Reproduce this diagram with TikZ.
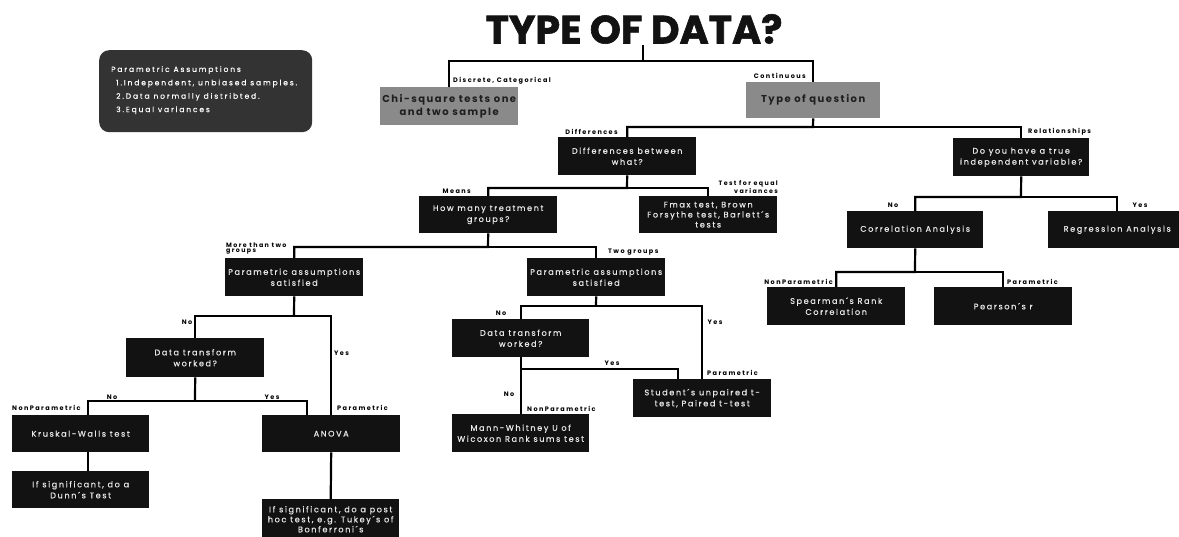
\documentclass[tikz,border=0pt]{standalone}
\usepackage{fontspec}
\setmainfont{Poppins}
\newfontfamily\boxfont[LetterSpace=20, FakeBold=0.6]{Poppins}
\newfontfamily\notefont[LetterSpace=25, FakeBold=0.4]{Poppins}
\newfontfamily\greyfont[LetterSpace=15]{Poppins}
\newfontfamily\lblfont[LetterSpace=22]{Poppins}
\newfontfamily\headfont[FakeBold=1.5]{Poppins}
\definecolor{boxblack}{HTML}{121212}
\definecolor{boxtext}{HTML}{E8E8E8}
\definecolor{greybox}{HTML}{8A8A8A}
\definecolor{greytext}{HTML}{1E1E1E}
\definecolor{notefill}{HTML}{333333}
\tikzset{
  box/.style={fill=boxblack, text=boxtext, anchor=north west, align=center,
    inner sep=0pt, minimum width=138pt, minimum height=38pt,
    font=\boxfont\fontsize{8.1}{11}\selectfont},
  greyblock/.style={fill=greybox, text=greytext, anchor=north west, align=center,
    inner sep=0pt, minimum height=38pt,
    font=\greyfont\bfseries\fontsize{10}{13}\selectfont},
  lbl/.style={inner sep=0pt, text=black, font=\lblfont\bfseries\fontsize{6.5}{6.5}\selectfont},
  wire/.style={draw=black, line width=2.2pt}
}
\begin{document}
\begin{tikzpicture}[x=1pt, y=-1pt]
\useasboundingbox (0,0) rectangle (1179,536);
\fill[white] (0,0) rectangle (1179,536);

% heading
\node[inner sep=0pt, font=\headfont\bfseries\fontsize{39.5}{41}\selectfont, text=black!93] (title) at (634,29) {TYPE OF DATA?};

% assumptions note
\node[fill=notefill, rounded corners=10pt, anchor=north west, minimum width=213pt,
  minimum height=82pt, inner sep=0pt] (note) at (99,50) {};
\node[anchor=north west, inner sep=0pt, text=white, align=left,
  font=\notefont\fontsize{7.5}{13.4}\selectfont] (notetext) at (111,66)
  {Parametric Assumptions\\
   \hspace*{5pt}1.Independent, unbiased samples.\\
   \hspace*{5pt}2.Data normally distribted.\\
   \hspace*{5pt}3.Equal variances};

% blocks
\node[greyblock, minimum width=138pt] (chi) at (380,87) {Chi-square tests one\\and two sample};
\node[greyblock, minimum width=134pt, minimum height=36pt] (typeq) at (746,82) {Type of question};
\node[box] (diff) at (558,137) {Differences between\\what?};
\node[box, minimum height=37pt] (how) at (419,196) {How many treatment\\groups?};
\node[box, minimum height=37pt, font=\boxfont\fontsize{8.1}{10}\selectfont] (fmax) at (639,196) {Fmax test, Brown\\Forsythe test, Barlett´s\\tests};
\node[box, minimum width=136pt] (dyh) at (953,138) {Do you have a true\\independent variable?};
\node[box, minimum width=136pt, minimum height=37pt] (corr) at (847,211) {Correlation Analysis};
\node[box, minimum height=37pt] (regr) at (1048,211) {Regression Analysis};
\node[box] (spear) at (767,287) {Spearman´s Rank\\Correlation};
\node[box] (pears) at (934,287) {Pearson´s r};
\node[box] (pa1) at (225,258) {Parametric assumptions\\satisfied};
\node[box] (pa2) at (527,258) {Parametric assumptions\\satisfied};
\node[box, minimum height=39pt] (dt1) at (126,338) {Data transform\\worked?};
\node[box, minimum width=137pt, minimum height=37pt] (kru) at (12,415) {Kruskal-Walls test};
\node[box, minimum width=137pt, minimum height=37pt] (dunn) at (12,471) {If significant, do a\\Dunn´s Test};
\node[box, minimum height=37pt] (anova) at (262,415) {ANOVA};
\node[box, minimum width=137pt, minimum height=40pt, font=\boxfont\fontsize{8.1}{10}\selectfont] (post) at (262,499) {If significant, do a post\\hoc test, e.g. Tukey´s of\\Bonferroni´s};
\node[box, minimum width=137pt] (dt2) at (452,319) {Data transform\\worked?};
\node[box, minimum width=137pt] (mann) at (452,414) {Mann-Whitney U of\\Wicoxon Rank sums test};
\node[box] (stud) at (633,379) {Student´s unpaired t-\\test, Paired t-test};

% junctions
\coordinate (t0) at (643,45);
\coordinate (j0) at (643,61);
\coordinate (j1) at (813,127);
\coordinate (j2) at (627,188);
\coordinate (j3) at (488,247);
\coordinate (j5) at (294,316);
\coordinate (j6) at (195,401);
\coordinate (j7) at (596,306);
\coordinate (j8) at (520.5,369);
\coordinate (j9) at (915,272);
\coordinate (j10) at (1021,197);

% connectors
\draw[wire] (t0) -- (j0) -| (chi.north);
\draw[wire] (j0) -| (typeq.north);
\draw[wire] (typeq.south) -- (j1) -| (diff.north);
\draw[wire] (j1) -| (dyh.north);
\draw[wire] (diff.south) -- (j2) -| (how.north);
\draw[wire] (j2) -| (fmax.north);
\draw[wire] (how.south) -- (j3) -| (pa1.north);
\draw[wire] (j3) -| (pa2.north);
\draw[wire] (pa1.south) -- (j5);
\draw[wire] (dt1.north) |- (j5) -| (anova.north);
\draw[wire] (dt1.south) -- (j6);
\draw[wire] ([xshift=7pt]kru.north) |- (j6) -| ([xshift=-24pt]anova.north);
\draw[wire] ([xshift=7pt]kru.south) -- ([xshift=7pt]dunn.north);
\draw[wire] (anova.south) -- (post.north);
\draw[wire] (pa2.south) -- (j7);
\draw[wire] (dt2.north) |- (j7) -| (stud.north);
\draw[wire] (dt2.south) -- (mann.north);
\draw[wire] (j8) -| ([xshift=-24pt]stud.north);
\draw[wire] (dyh.south) -- (j10) -| (corr.north);
\draw[wire] (j10) -| (regr.north);
\draw[wire] (corr.south) -- (j9) -| (spear.north);
\draw[wire] (j9) -| (pears.north);

% branch labels
\node[lbl, anchor=west] (l1) at (453,81) {Discrete, Categorical};
\node[lbl, anchor=east] (l2) at (806,76) {Continuous};
\node[lbl, anchor=east] (l3) at (618,132) {Differences};
\node[lbl, anchor=west] (l4) at (1028,132) {Relationships};
\node[lbl, anchor=east] (l5) at (471,191) {Means};
\node[lbl, anchor=east, align=right, font=\lblfont\bfseries\fontsize{6.3}{5.8}\selectfont] (l6) at (778,187) {Test for equal\\variances};
\node[lbl] (l7) at (893,205) {No};
\node[lbl] (l8) at (1140,205) {Yes};
\node[lbl, anchor=east] (l9) at (833,282) {NonParametric};
\node[lbl, anchor=west] (l10) at (1007,282) {Parametric};
\node[lbl, anchor=west, align=left, font=\lblfont\bfseries\fontsize{6.3}{5.8}\selectfont] (l11) at (226,248.5) {More than two\\groups};
\node[lbl, anchor=west] (l12) at (608,252) {Two groups};
\node[lbl] (l13) at (187,322) {No};
\node[lbl, anchor=west] (l14) at (334,353) {Yes};
\node[lbl] (l15) at (112,397) {No};
\node[lbl] (l16) at (272,397) {Yes};
\node[lbl, anchor=west] (l17) at (12,408) {NonParametric};
\node[lbl, anchor=west] (l18) at (337,408) {Parametric};
\node[lbl] (l19) at (501,313) {No};
\node[lbl] (l20) at (715,322) {Yes};
\node[lbl] (l21) at (612,363) {Yes};
\node[lbl] (l22) at (509,394) {No};
\node[lbl, anchor=west] (l23) at (527,409) {NonParametric};
\node[lbl, anchor=west] (l24) at (707,373) {Parametric};
\end{tikzpicture}
\end{document}
